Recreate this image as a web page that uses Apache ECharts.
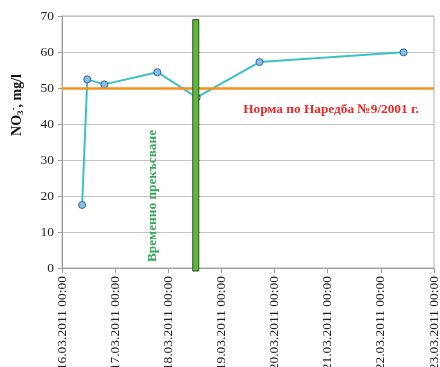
<!DOCTYPE html>
<html lang="bg">
<head>
  <meta charset="UTF-8">
  <title>NO3 - Наредба 9/2001</title>
  <script src="https://cdn.jsdelivr.net/npm/echarts@6/dist/echarts.min.js"></script>
  <style>
    html, body { margin: 0; padding: 0; background: #fff; }
  </style>
</head>
<body>
  <div id="main" style="width: 440px; height: 367px;"></div>
  <script>
    // measurement times (UTC) and NO3 values, mg/l
    var sampleTimes = ['2011-03-16T09:05', '2011-03-16T11:25', '2011-03-16T19:05', '2011-03-17T19:05',
      '2011-03-18T12:50', '2011-03-19T17:10', '2011-03-22T10:15'];
    var no3Values = [17.5, 52.4, 51.0, 54.4, 47.4, 57.2, 59.9];
    // limit from the regulation
    var normValue = 50;
    var normLabel = 'Норма по Наредба №9/2001 г.';
    // interruption marker
    var breakTime = '2011-03-18T12:25';
    var breakTop = 69;
    var breakLabel = 'Временно прекъсване';
    var axisStart = '2011-03-16T00:00';
    var axisEnd = '2011-03-23T00:00';
    var yTicks = [0, 10, 20, 30, 40, 50, 60, 70];

    function ts(s) { return new Date(s + ':00Z').getTime(); }
    var DAY = 86400000;
    var serif = 'Liberation Serif';

    var lineData = sampleTimes.map(function (t, i) { return [ts(t), no3Values[i]]; });

    var myChart = echarts.init(document.getElementById('main'));
    var option = {
      animation: false,
      grid: {
        left: 62, right: 6, top: 16, bottom: 99,
        containLabel: false, outerBoundsMode: 'none',
        show: true, borderColor: '#b0b0b0', borderWidth: 1
      },
      xAxis: {
        type: 'value',
        min: ts(axisStart),
        max: ts(axisEnd),
        interval: DAY,
        axisLine: { lineStyle: { color: '#a0a0a0' } },
        axisTick: { show: true, length: 5, lineStyle: { color: '#a0a0a0' } },
        splitLine: { show: false },
        axisLabel: {
          rotate: 90,
          margin: 8,
          color: '#222',
          fontFamily: serif,
          fontSize: 13.5,
          showMinLabel: true,
          showMaxLabel: true,
          formatter: function (v) { return echarts.time.format(v, '{dd}.{MM}.{yyyy} {HH}:{mm}', true); }
        }
      },
      yAxis: {
        type: 'value',
        min: yTicks[0],
        max: yTicks[yTicks.length - 1],
        interval: yTicks[1] - yTicks[0],
        axisLine: { show: true, lineStyle: { color: '#a0a0a0' } },
        axisTick: { show: true, length: 4, lineStyle: { color: '#a0a0a0' } },
        splitLine: { lineStyle: { color: '#c4c4c4' } },
        axisLabel: { color: '#222', fontFamily: serif, fontSize: 13.5, margin: 8 }
      },
      graphic: [
        {
          type: 'text', x: 17, y: 105, rotation: Math.PI / 2,
          style: {
            text: '{a|NO}{s|3}{p|-}{a|, mg/l}',
            align: 'center', verticalAlign: 'middle',
            rich: {
              a: { fontFamily: serif, fontWeight: 'bold', fontSize: 14, fill: '#111' },
              s: { fontFamily: serif, fontWeight: 'bold', fontSize: 9, fill: '#111', padding: [7, 0, 0, 0] },
              p: { fontFamily: serif, fontWeight: 'bold', fontSize: 9, fill: '#111', padding: [0, 0, 7, 0] }
            }
          }
        },
        {
          type: 'text', x: 153, y: 196, rotation: Math.PI / 2, z: 10,
          style: {
            text: breakLabel, align: 'center', verticalAlign: 'middle',
            fontFamily: serif, fontWeight: 'bold', fontSize: 13.3, fill: '#3aa65a'
          }
        },
        {
          type: 'text', x: 331, y: 110, z: 10,
          style: {
            text: normLabel, align: 'center', verticalAlign: 'middle',
            fontFamily: serif, fontWeight: 'bold', fontSize: 13.3, fill: '#ee2a2a'
          }
        }
      ],
      series: [
        {
          type: 'line',
          data: lineData,
          z: 3,
          lineStyle: { color: '#3fc0c3', width: 2 },
          symbol: 'circle',
          symbolSize: 7,
          itemStyle: { color: '#7fc4e6', borderColor: '#3a5fa0', borderWidth: 1 },
          markLine: {
            silent: true,
            symbol: 'none',
            label: { show: false },
            lineStyle: { color: '#f5921e', width: 2.5, type: 'solid' },
            data: [{ yAxis: normValue }]
          }
        },
        {
          type: 'custom',
          clip: false,
          z: 5,
          data: [[ts(breakTime), breakTop]],
          renderItem: function (params, api) {
            var top = api.coord([api.value(0), api.value(1)]);
            var bottom = api.coord([api.value(0), 0]);
            return {
              type: 'rect',
              shape: { x: top[0] - 3, y: top[1], width: 6, height: bottom[1] - top[1] + 3 },
              style: { fill: '#5cb83a', stroke: '#2d4f1e', lineWidth: 1 }
            };
          }
        }
      ]
    };
    myChart.setOption(option);
  </script>
</body>
</html>
